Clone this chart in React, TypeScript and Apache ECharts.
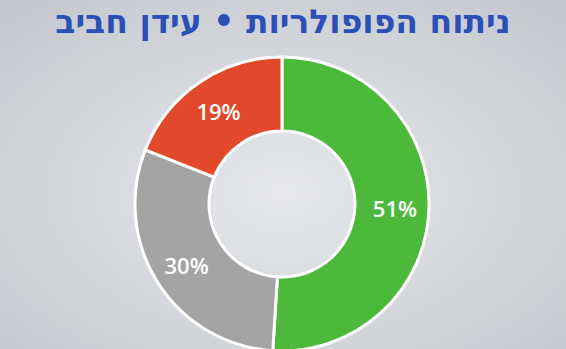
import React, { useEffect, useRef } from "react";
import * as echarts from "echarts";

const titleText = "ניתוח הפופולריות • עידן חביב";
const categories = ["חיובי", "ניטרלי", "שלילי"];
const values = [51, 30, 19];
const colors = ["#4cb93a", "#a4a4a4", "#e2492b"];

export default function App() {
  const ref = useRef<HTMLDivElement>(null);
  useEffect(() => {
    document.body.style.margin = "0";
    const chart = echarts.init(ref.current!, null, { renderer: "svg" });
    chart.setOption({
      animation: false,
      backgroundColor: {
        type: "radial",
        x: 0.5,
        y: 0.55,
        r: 0.75,
        colorStops: [
          { offset: 0, color: "#e6e8ec" },
          { offset: 1, color: "#c3c6cc" },
        ],
      },
      title: {
        text: titleText,
        left: "center",
        top: 0,
        textStyle: {
          color: "#2a50b8",
          fontFamily: "DejaVu Sans",
          fontWeight: 900,
          fontSize: 33,
        },
      },
      series: [
        {
          type: "pie",
          center: [282, 204],
          radius: [73, 147],
          startAngle: 90,
          clockwise: true,
          avoidLabelOverlap: false,
          itemStyle: { borderColor: "#ffffff", borderWidth: 3 },
          label: {
            show: true,
            position: "inside",
            formatter: "{c}%",
            color: "#ffffff",
            fontFamily: "Open Sans",
            fontWeight: 600,
            fontSize: 22,
          },
          labelLine: { show: false },
          data: categories.map((n, i) => ({
            name: n,
            value: values[i],
            itemStyle: { color: colors[i] },
          })),
        },
      ],
    });
    return () => chart.dispose();
  }, []);
  return (
    <div
      ref={ref}
      style={{ position: "absolute", left: 0, top: 0, width: 566, height: 349 }}
    />
  );
}
